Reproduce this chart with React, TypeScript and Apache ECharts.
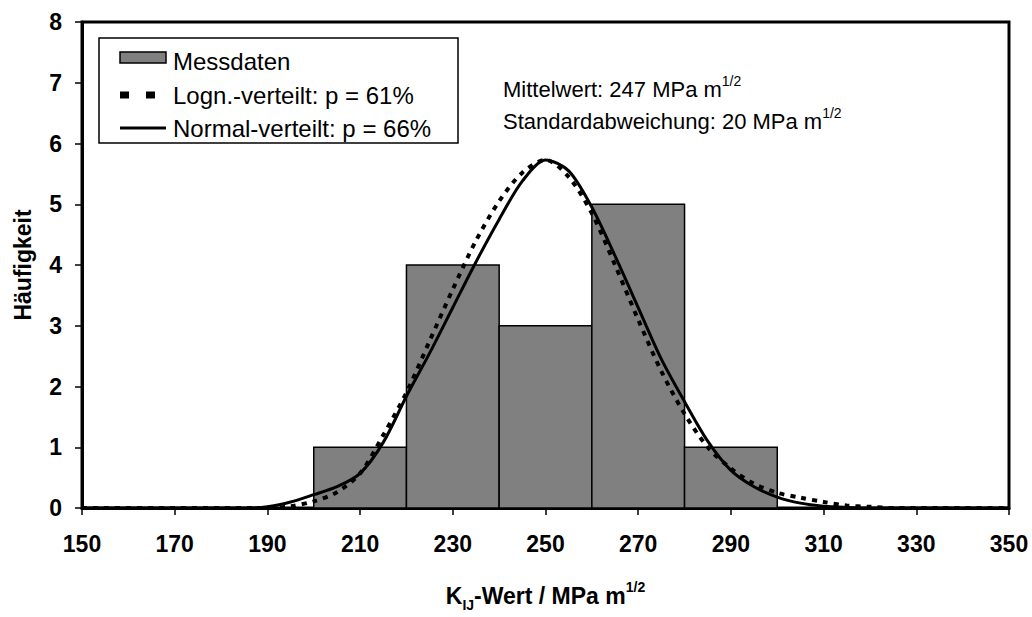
import React, { useEffect, useRef } from "react";
import * as echarts from "echarts";

// Histogram bins: [from, to, count]
const binStarts = [200, 220, 240, 260, 280];
const binEnds = [220, 240, 260, 280, 300];
const binCounts = [1, 4, 3, 5, 1];

// Fitted curves
const normalX = [150, 170, 185, 190, 195, 200, 205, 210, 215, 220, 225, 230, 235, 240, 245, 250, 255, 260, 265, 270, 275, 280, 285, 290, 295, 300, 305, 310, 315, 320, 335, 350];
const normalY = [0, 0, 0, 0.02, 0.1, 0.22, 0.35, 0.57, 1.08, 1.84, 2.55, 3.3, 4.05, 4.75, 5.38, 5.73, 5.55, 4.95, 4.15, 3.3, 2.45, 1.75, 1.1, 0.62, 0.35, 0.18, 0.08, 0.03, 0.01, 0, 0, 0];
const lognX = [150, 170, 180, 190, 195, 200, 205, 210, 215, 220, 225, 230, 235, 240, 245, 250, 255, 260, 265, 270, 275, 280, 285, 290, 295, 300, 305, 310, 315, 320, 325, 335, 350];
const lognY = [0, 0, 0, 0, 0.03, 0.11, 0.26, 0.57, 1.2, 1.9, 2.75, 3.6, 4.4, 5.05, 5.52, 5.73, 5.45, 4.85, 4.0, 3.1, 2.25, 1.55, 1.0, 0.65, 0.4, 0.25, 0.17, 0.1, 0.04, 0.02, 0, 0, 0];

const legendNames = ["Messdaten", "Logn.-verteilt: p = 61%", "Normal-verteilt: p = 66%"];
const annotationLines = ["Mittelwert: 247 MPa m", "Standardabweichung: 20 MPa m"];

const xTicksMin = 150;
const xTicksMax = 350;
const xTickStep = 20;
const yMin = 0;
const yMax = 8;

const FONT = "'Liberation Sans', Arial, Helvetica, sans-serif";

export default function App() {
  const ref = useRef<HTMLDivElement>(null);
  useEffect(() => {
    if (!ref.current) return;
    const chart = echarts.init(ref.current, null, { renderer: "svg" });
    const bars = binStarts.map((s, i) => [s, binEnds[i], binCounts[i]]);
    const normalData = normalX.map((x, i) => [x, normalY[i]]);
    const lognData = lognX.map((x, i) => [x, lognY[i]]);
    const legendText = (t: string, y: number) => ({
      type: "text",
      x: 173,
      y,
      style: { text: t, fontSize: 24, fill: "#000", fontFamily: FONT, verticalAlign: "middle", align: "left" },
      z: 10,
    });
    const annot = (t: string, top: number) => ({
      type: "text",
      left: 503,
      top,
      z: 10,
      style: {
        text: `{t|${t}}{p|1/2}`,
        rich: {
          t: { fontSize: 22, fill: "#000", fontFamily: FONT, lineHeight: 26, verticalAlign: "bottom" },
          p: { fontSize: 14, fill: "#000", fontFamily: FONT, lineHeight: 26, verticalAlign: "top" },
        },
      },
    });
    chart.setOption({
      animation: false,
      backgroundColor: "#fff",
      textStyle: { fontFamily: FONT },
      grid: {
        left: 82,
        top: 22,
        right: 23,
        bottom: 100,
        show: true,
        borderColor: "#000",
        borderWidth: 3,
        backgroundColor: "transparent",
      },
      legend: { show: false, data: legendNames },
      xAxis: {
        type: "value",
        min: xTicksMin,
        max: xTicksMax,
        interval: xTickStep,
        splitLine: { show: false },
        axisLine: { show: true, onZero: false, lineStyle: { color: "#000", width: 3 } },
        axisTick: { show: true, length: 7, lineStyle: { color: "#000", width: 1.5 } },
        axisLabel: { color: "#000", fontSize: 23, fontWeight: "bold", margin: 24, fontFamily: FONT },
        name: "{b|K}{s|IJ}{b|-Wert / MPa m}{p|1/2}",
        nameLocation: "middle",
        nameGap: 72,
        nameTextStyle: {
          rich: {
            b: { fontSize: 23, fontWeight: "bold", color: "#000", fontFamily: FONT, lineHeight: 32, verticalAlign: "middle" },
            s: { fontSize: 14, fontWeight: "bold", color: "#000", fontFamily: FONT, lineHeight: 32, verticalAlign: "bottom" },
            p: { fontSize: 14, fontWeight: "bold", color: "#000", fontFamily: FONT, lineHeight: 32, verticalAlign: "top" },
          },
        },
      },
      yAxis: {
        type: "value",
        min: yMin,
        max: yMax,
        interval: 1,
        splitLine: { show: false },
        axisLine: { show: true, lineStyle: { color: "#000", width: 3 } },
        axisTick: { show: true, length: 7, lineStyle: { color: "#000", width: 1.5 } },
        axisLabel: { color: "#000", fontSize: 23, fontWeight: "bold", margin: 20, fontFamily: FONT },
        name: "Häufigkeit",
        nameLocation: "middle",
        nameGap: 48,
        nameRotate: 90,
        nameTextStyle: { fontSize: 23, fontWeight: "bold", color: "#000", fontFamily: FONT },
      },
      graphic: [
        {
          type: "rect",
          shape: { x: 99, y: 38, width: 359, height: 105 },
          style: { fill: "#fff", stroke: "#000", lineWidth: 1.5 },
          z: 9,
        },
        {
          type: "rect",
          shape: { x: 120, y: 52, width: 46, height: 11 },
          style: { fill: "#808080", stroke: "#000", lineWidth: 1.5 },
          z: 10,
        },
        {
          type: "line",
          shape: { x1: 120, y1: 95, x2: 166, y2: 95 },
          style: { stroke: "#000", lineWidth: 7, lineDash: [9, 17] },
          z: 10,
        },
        {
          type: "line",
          shape: { x1: 120, y1: 128, x2: 166, y2: 128 },
          style: { stroke: "#000", lineWidth: 3 },
          z: 10,
        },
        legendText(legendNames[0], 61),
        legendText(legendNames[1], 95),
        legendText(legendNames[2], 128),
        annot(annotationLines[0], 74),
        annot(annotationLines[1], 106),
      ],
      series: [
        {
          name: legendNames[0],
          type: "custom",
          itemStyle: { color: "#808080" },
          encode: { x: [0, 1], y: 2 },
          data: bars,
          z: 1,
          renderItem: (params: any, api: any) => {
            const p0 = api.coord([api.value(0), api.value(2)]);
            const p1 = api.coord([api.value(1), 0]);
            return {
              type: "rect",
              shape: { x: p0[0], y: p0[1], width: p1[0] - p0[0], height: p1[1] - p0[1] },
              style: { fill: "#808080", stroke: "#000", lineWidth: 1.5 },
            };
          },
        },
        {
          name: legendNames[1],
          type: "line",
          data: lognData,
          smooth: 0.3,
          symbol: "none",
          showSymbol: false,
          z: 3,
          lineStyle: { color: "#000", width: 4, type: [5, 6] },
          itemStyle: { color: "#000" },
        },
        {
          name: legendNames[2],
          type: "line",
          data: normalData,
          smooth: 0.3,
          symbol: "none",
          showSymbol: false,
          z: 4,
          lineStyle: { color: "#000", width: 3 },
          itemStyle: { color: "#000" },
        },
      ],
    });
    return () => chart.dispose();
  }, []);
  return <div ref={ref} style={{ position: "fixed", left: 0, top: 0, width: 1032, height: 617 }} />;
}
